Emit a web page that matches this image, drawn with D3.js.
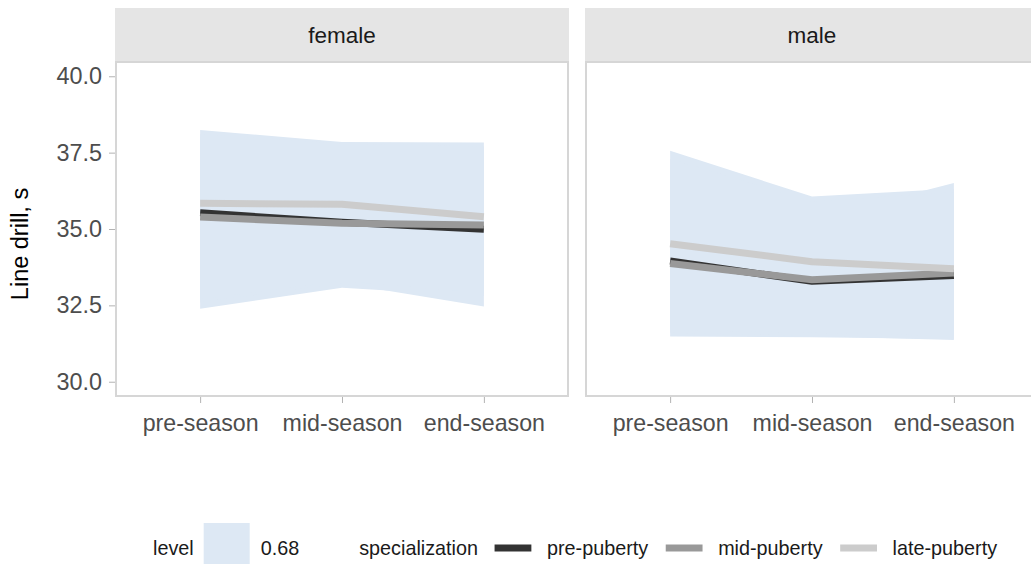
<!DOCTYPE html>
<html>
<head>
<meta charset="utf-8">
<script src="https://cdn.jsdelivr.net/npm/d3@7"></script>
<style>
  body { margin: 0; background: #fff; }
  svg { display: block; font-family: "Liberation Sans", Arial, sans-serif; }
</style>
</head>
<body>
<svg id="chart" width="1031" height="564"></svg>
<script>
// categories
const seasons = ['pre-season', 'mid-season', 'end-season'];
const facets = ['female', 'male'];
const groups = ['pre-puberty', 'mid-puberty', 'late-puberty'];
const yTicks = [30, 32.5, 35, 37.5, 40];

// mean lines, one per specialization group (pre, mid, end season)
const femalePre = [35.53, 35.22, 34.99];
const femaleMid = [35.39, 35.19, 35.13];
const femaleLate = [35.84, 35.81, 35.40];
const malePre = [33.95, 33.29, 33.48];
const maleMid = [33.87, 33.34, 33.56];
const maleLate = [34.52, 33.93, 33.70];

// 0.68 interval ribbons, per group
const femalePreLo = [32.39, 33.08, 32.80];
const femalePreHi = [38.24, 37.85, 37.83];
const femaleMidLo = [32.60, 33.22, 32.46];
const femaleMidHi = [38.00, 37.70, 37.60];
const femaleLateLo = [32.70, 33.30, 32.90];
const femaleLateHi = [38.10, 37.80, 37.70];
const malePreLo = [31.48, 31.46, 31.40];
const malePreHi = [37.56, 36.06, 36.32];
const maleMidLo = [31.60, 31.50, 31.37];
const maleMidHi = [37.00, 35.31, 36.51];
const maleLateLo = [31.70, 31.60, 31.50];
const maleLateHi = [37.30, 35.90, 36.20];

const lines = {
  female: [femalePre, femaleMid, femaleLate],
  male: [malePre, maleMid, maleLate]
};
const ribbons = {
  female: [[femalePreLo, femalePreHi], [femaleMidLo, femaleMidHi], [femaleLateLo, femaleLateHi]],
  male: [[malePreLo, malePreHi], [maleMidLo, maleMidHi], [maleLateLo, maleLateHi]]
};

const lineColor = {'pre-puberty': '#333333', 'mid-puberty': '#999999', 'late-puberty': '#cccccc'};
const lineW = 7;
const ribbonFill = '#dde8f4';
const fontFam = '"Liberation Sans", Arial, sans-serif';

const svg = d3.select('#chart');

const panelW = 454;
const panelLeft = [115, 585];
const panelTop = 61;
const panelBottom = 397;
const stripTop = 8;

const y = d3.scaleLinear().domain([29.5, 40.5]).range([panelBottom, panelTop]);

facets.forEach((f, fi) => {
  const x0 = panelLeft[fi];
  const x = d3.scalePoint().domain(seasons).range([x0, x0 + panelW]).padding(0.6);

  // strip
  svg.append('rect')
    .attr('x', x0).attr('y', stripTop)
    .attr('width', panelW).attr('height', panelTop - stripTop)
    .attr('fill', '#e5e5e5');
  svg.append('text')
    .attr('x', x0 + panelW / 2).attr('y', 43)
    .attr('text-anchor', 'middle')
    .attr('font-size', 22.5)
    .attr('fill', '#1a1a1a')
    .text(f);

  const g = svg.append('g');

  // ribbons (union drawn opaque)
  const area = d3.area()
    .x((d, i) => x(seasons[i]))
    .y0(d => y(d[0]))
    .y1(d => y(d[1]));
  ribbons[f].forEach(r => {
    g.append('path')
      .datum(seasons.map((s, i) => [r[0][i], r[1][i]]))
      .attr('d', area)
      .attr('fill', ribbonFill);
  });

  // lines
  const line = d3.line()
    .x((d, i) => x(seasons[i]))
    .y(d => y(d));
  groups.forEach((grp, gi) => {
    g.append('path')
      .datum(lines[f][gi])
      .attr('d', line)
      .attr('fill', 'none')
      .attr('stroke', lineColor[grp])
      .attr('stroke-width', lineW)
      .attr('stroke-linejoin', 'round');
  });

  // panel border
  svg.append('rect')
    .attr('x', x0 + 1).attr('y', panelTop + 1)
    .attr('width', panelW - 2).attr('height', panelBottom - panelTop - 2)
    .attr('fill', 'none')
    .attr('stroke', '#d6d6d6')
    .attr('stroke-width', 2);

  // x axis
  const xAxis = svg.append('g')
    .attr('transform', `translate(0,${panelBottom})`)
    .call(d3.axisBottom(x).tickSize(6).tickPadding(12));
  xAxis.select('.domain').remove();
  xAxis.selectAll('line').attr('stroke', '#b3b3b3').attr('stroke-width', 1);
  xAxis.selectAll('text')
    .attr('font-size', 23.2)
    .attr('fill', '#4d4d4d')
    .attr('font-family', fontFam);
});

// y axis (left panel only)
const yAxis = svg.append('g')
  .attr('transform', `translate(${panelLeft[0]},0)`)
  .call(d3.axisLeft(y).tickValues(yTicks).tickFormat(d3.format('.1f')).tickSize(6).tickPadding(7));
yAxis.select('.domain').remove();
yAxis.selectAll('line').attr('stroke', '#b3b3b3').attr('stroke-width', 1);
yAxis.selectAll('text')
  .attr('font-size', 23.4)
  .attr('fill', '#4d4d4d')
  .attr('font-family', fontFam);

// y title
svg.append('text')
  .attr('transform', `translate(28,244) rotate(-90)`)
  .attr('text-anchor', 'middle')
  .attr('font-size', 23.5)
  .attr('fill', '#000')
  .text('Line drill, s');

// legend
const legY = 548;
const keyW = 46;
const leg = svg.append('g').attr('font-size', 19.8).attr('fill', '#1a1a1a');
let cx = 153;
function legText(s, gapAfter) {
  const t = leg.append('text').attr('x', cx).attr('y', legY).attr('dy', '0.35em').text(s);
  cx += t.node().getComputedTextLength() + gapAfter;
}
legText('level', 10);
leg.append('rect').attr('x', cx).attr('y', 523).attr('width', keyW).attr('height', keyW).attr('fill', ribbonFill);
cx += keyW + 11;
legText('0.68', 60);
legText('specialization', 12);
groups.forEach(grp => {
  leg.append('line')
    .attr('x1', cx + keyW * 0.1).attr('x2', cx + keyW * 0.9)
    .attr('y1', legY).attr('y2', legY)
    .attr('stroke', lineColor[grp]).attr('stroke-width', lineW);
  cx += keyW + 11;
  legText(grp, 13);
});
</script>
</body>
</html>
